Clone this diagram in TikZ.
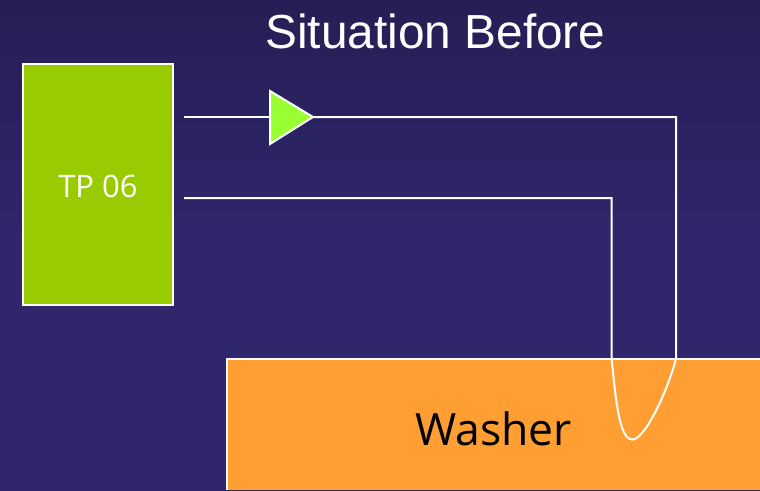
\documentclass[tikz,border=0pt]{standalone}
\usepackage{fontspec}
\setmainfont{Liberation Sans}
\newfontfamily\bodyfont{Open Sans}
\definecolor{bgtop}{HTML}{251F55}
\definecolor{bgbot}{HTML}{30266C}
\definecolor{tpgreen}{RGB}{153,204,0}
\definecolor{arrowgreen}{RGB}{153,255,51}
\definecolor{washerorange}{RGB}{255,158,50}
\begin{document}
\begin{tikzpicture}[x=1pt,y=-1pt,
  line/.style={draw=white,line width=2pt,line join=miter},
  boxed/.style={draw=white,line width=2pt,inner sep=0pt,outer sep=0pt}]
\useasboundingbox (0,0) rectangle (760,490);
\shade[top color=bgtop,bottom color=bgbot,middle color=bgbot] (0,0) rectangle (760,490);
\node[font=\fontsize{47.8}{52}\selectfont,text=white,anchor=center] (title) at (435.5,31) {Situation Before};
\node[boxed,fill=tpgreen,minimum width=149.5pt,minimum height=241pt,anchor=north west] (tp) at (23,64) {};
\node[font=\bodyfont\fontsize{31}{36}\selectfont,text=white] (tplabel) at (98,186) {TP 06};
\fill[washerorange] (227,358.5) rectangle (760,490);
\draw[line] (760,358.5) -- (227,358.5) -- (227,490);
\node[font=\bodyfont\fontsize{44.5}{50}\selectfont,text=black] (washer) at (493.5,429) {Washer};
\coordinate (a1) at (184,117);
\coordinate (t1) at (270,91);
\coordinate (t2) at (270,144);
\coordinate (t3) at (313,117);
\coordinate (a2) at (676,117);
\coordinate (a3) at (676,358.5);
\coordinate (b1) at (184,198);
\coordinate (b2) at (611.5,198);
\coordinate (b3) at (611.5,358.5);
\coordinate (bottom) at (632.5,439.5);
\draw[line] (a1) -- (t1 |- a1);
\draw[boxed,fill=arrowgreen,line join=miter] (t1) -- (t3) -- (t2) -- cycle;
\draw[line] (t3) -- (a2) -- (a3) .. controls (668,390) and (645,439.5) .. (bottom) .. controls (619,439.5) and (616,400) .. (b3) -- (b2) -- (b1);
\end{tikzpicture}
\end{document}
